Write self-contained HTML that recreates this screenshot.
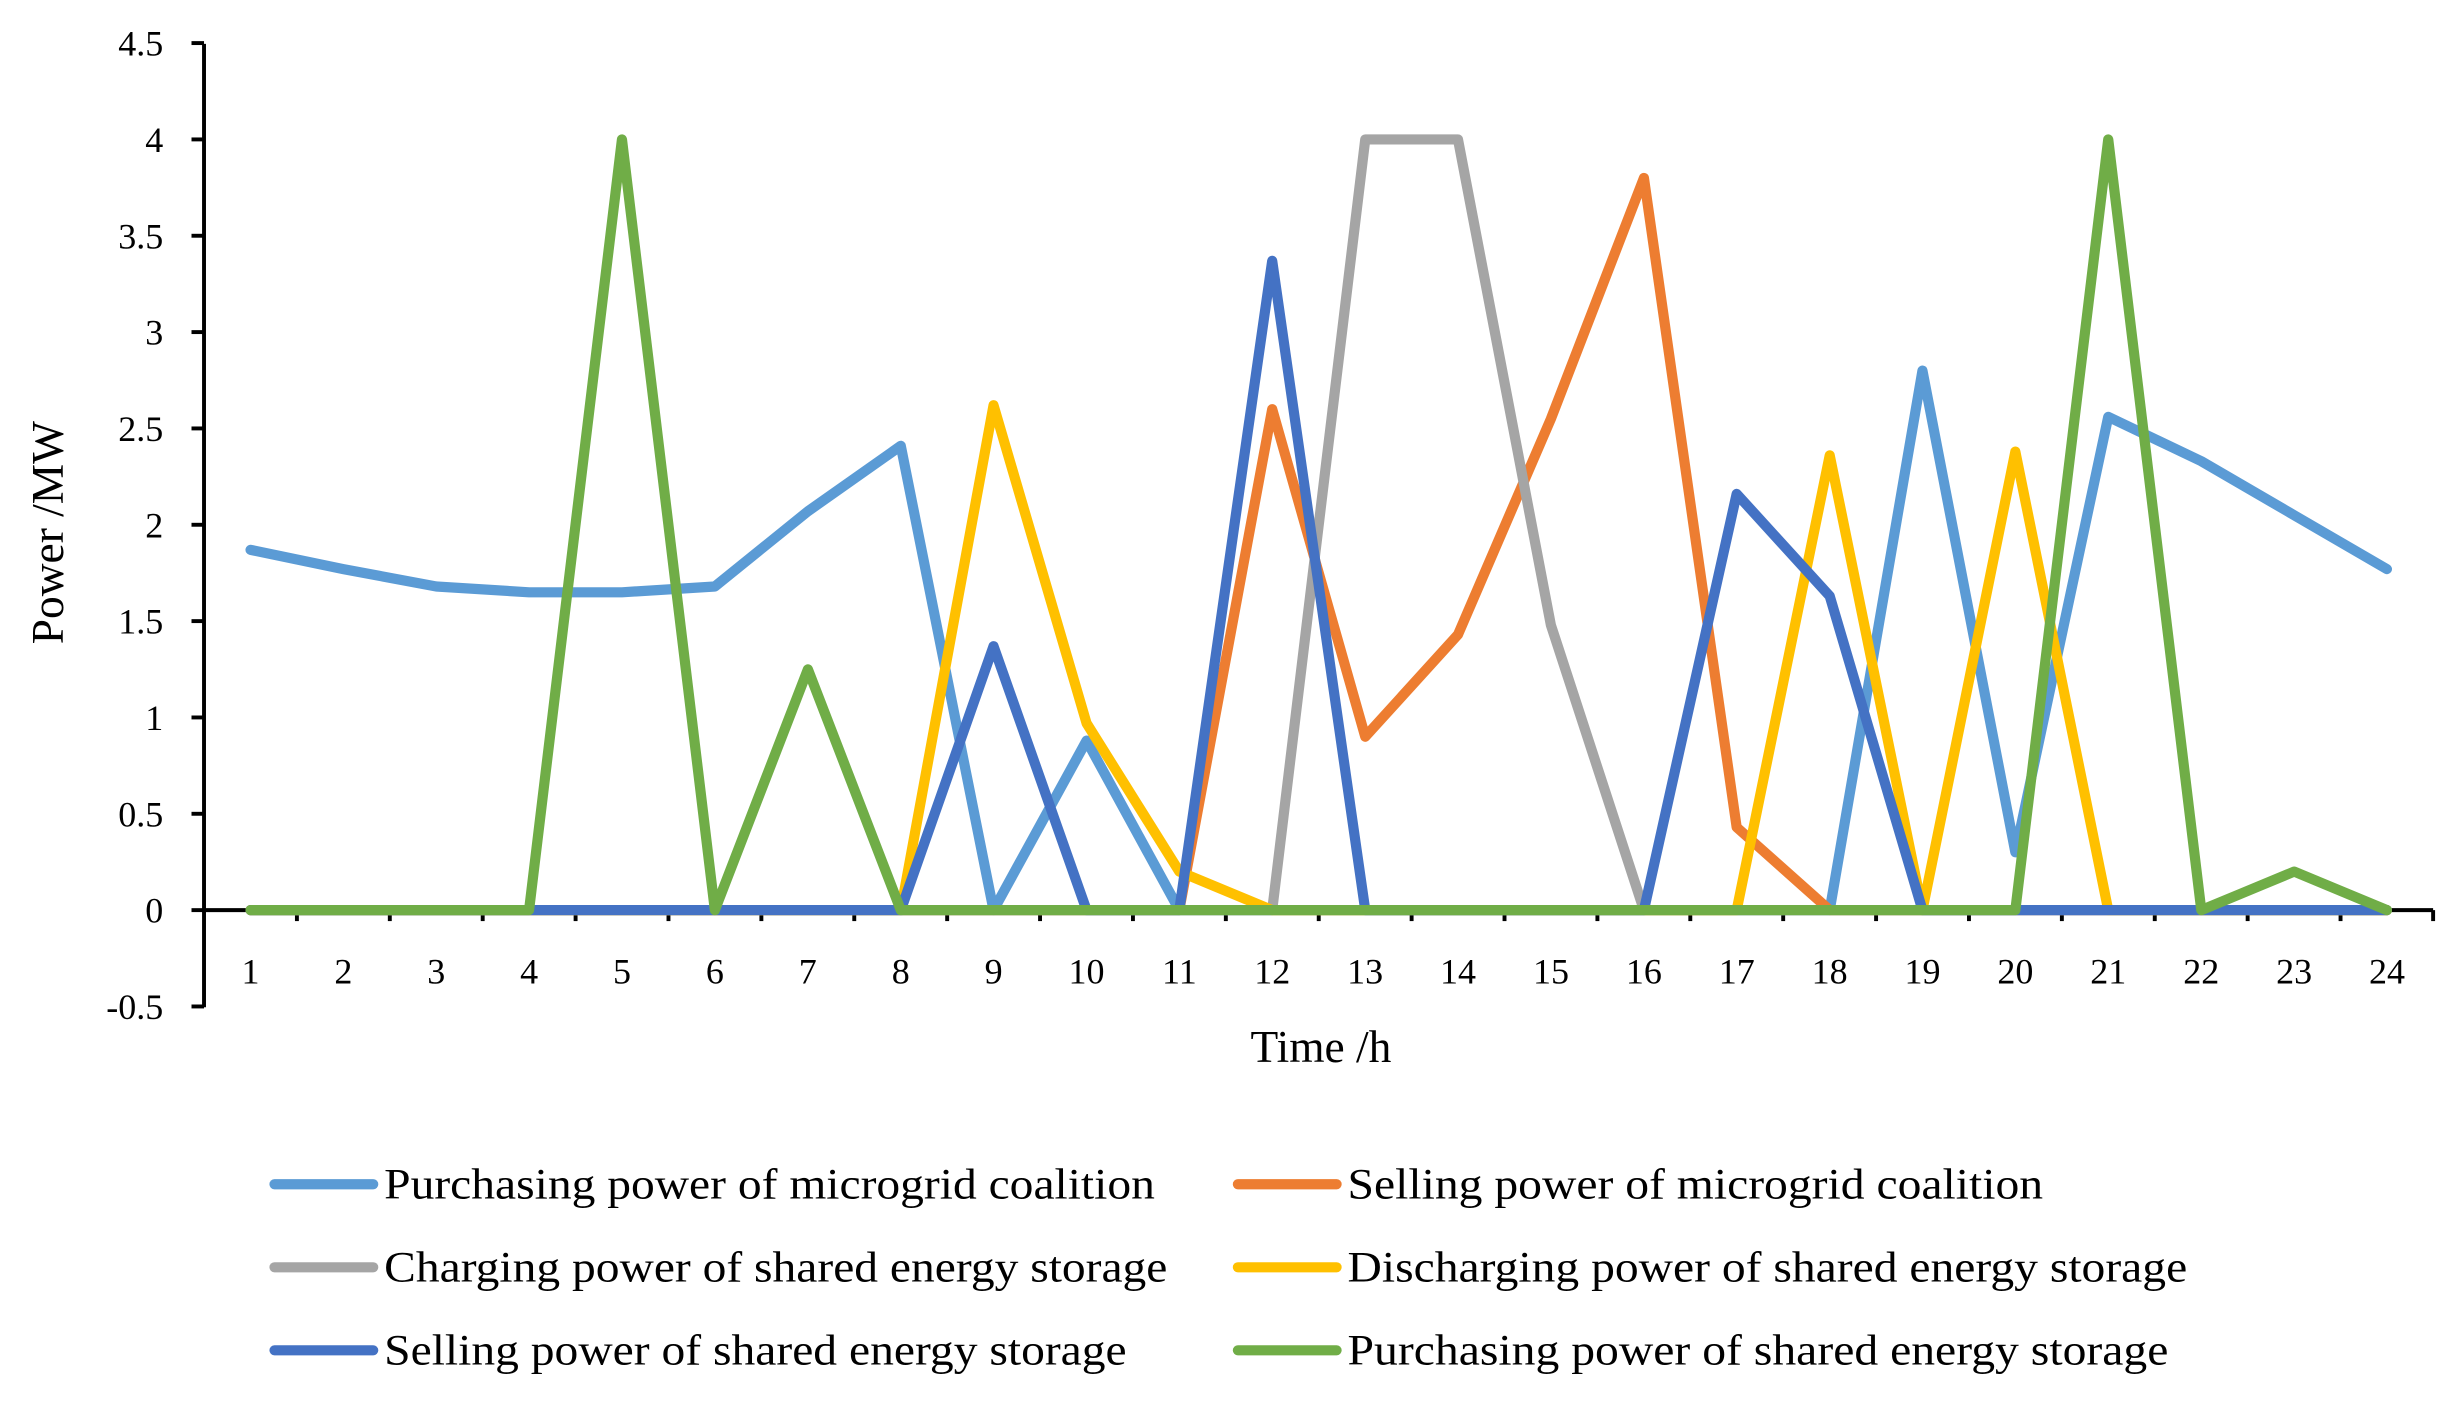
<!DOCTYPE html>
<html><head><meta charset="utf-8"><style>html,body{margin:0;padding:0;background:#fff}svg{display:block}</style></head>
<body>
<svg width="2457" height="1402" viewBox="0 0 1568 895" xmlns="http://www.w3.org/2000/svg" font-family="'Liberation Serif', serif">
<rect width="1568" height="895" fill="#fff"/>
<g stroke="#000" stroke-width="2.5" fill="none">
<line x1="130" y1="28" x2="130" y2="643"/>
<line x1="130" y1="581" x2="1553" y2="581"/>
<line x1="1553" y1="581" x2="1553" y2="588"/>
</g>
<g stroke="#000" stroke-width="2.5" id="yt"></g>
<g stroke="#000" stroke-width="2.5" id="xt"></g>
<g font-size="23" text-anchor="end" id="yl"></g>
<g font-size="23" text-anchor="middle" id="xl"></g>
<g fill="none" stroke-width="6.5" stroke-linejoin="round" stroke-linecap="round" id="series"></g>
<text x="843" y="678" font-size="29" text-anchor="middle">Time /h</text>
<text transform="translate(40,340) rotate(-90)" font-size="29" text-anchor="middle">Power /MW</text>
<g stroke-width="6.5" stroke-linecap="round">
<line x1="175" y1="756" x2="238" y2="756" stroke="#5B9BD5"/>
<line x1="175" y1="809" x2="238" y2="809" stroke="#A5A5A5"/>
<line x1="175" y1="862" x2="238" y2="862" stroke="#4472C4"/>
<line x1="790" y1="756" x2="853" y2="756" stroke="#ED7D31"/>
<line x1="790" y1="809" x2="853" y2="809" stroke="#FFC000"/>
<line x1="790" y1="862" x2="853" y2="862" stroke="#70AD47"/>
</g>
<g font-size="28">
<text x="245" y="765" textLength="492" lengthAdjust="spacingAndGlyphs">Purchasing power of microgrid coalition</text>
<text x="245" y="818" textLength="500" lengthAdjust="spacingAndGlyphs">Charging power of shared energy storage</text>
<text x="245" y="871" textLength="474" lengthAdjust="spacingAndGlyphs">Selling power of shared energy storage</text>
<text x="860" y="765" textLength="444" lengthAdjust="spacingAndGlyphs">Selling power of microgrid coalition</text>
<text x="860" y="818" textLength="536" lengthAdjust="spacingAndGlyphs">Discharging power of shared energy storage</text>
<text x="860" y="871" textLength="524" lengthAdjust="spacingAndGlyphs">Purchasing power of shared energy storage</text>
</g>
</svg>
<script>
var NS="http://www.w3.org/2000/svg";
function el(p,t,a,txt){var e=document.createElementNS(NS,t);for(var k in a)e.setAttribute(k,a[k]);if(txt!==undefined)e.textContent=txt;document.getElementById(p).appendChild(e);}
function Y(v){return 581-123*v;}
function X(i){return 130+59.3*(i-0.5);}
for(var k=0;k<=10;k++){var v=4.5-0.5*k;var y=Y(v);el("yt","line",{x1:122,y1:y,x2:130,y2:y});el("yl","text",{x:104,y:y+8},String(v));}
for(var k=1;k<24;k++){var x=130+59.3*k;el("xt","line",{x1:x,y1:581,x2:x,y2:588});}
for(var i=1;i<=24;i++){el("xl","text",{x:X(i),y:628},String(i));}
var z=function(){var a=[];for(var i=0;i<24;i++)a.push(0);return a;};
var lb=[1.87,1.77,1.68,1.65,1.65,1.68,2.07,2.41,0,0.88,0,0,0,0,0,0,0,0,2.8,0.3,2.56,2.33,2.05,1.77];
var or=z();or[11]=2.6;or[12]=0.9;or[13]=1.43;or[14]=2.55;or[15]=3.8;or[16]=0.43;
var gr=z();gr[12]=4;gr[13]=4;gr[14]=1.48;
var ye=z();ye[8]=2.62;ye[9]=0.97;ye[10]=0.2;ye[17]=2.36;ye[19]=2.38;
var db=z();db[8]=1.37;db[11]=3.37;db[16]=2.16;db[17]=1.63;
var gn=z();gn[4]=4;gn[6]=1.25;gn[20]=4;gn[22]=0.2;
var S=[[lb,"#5B9BD5"],[or,"#ED7D31"],[gr,"#A5A5A5"],[ye,"#FFC000"],[db,"#4472C4"],[gn,"#70AD47"]];
S.forEach(function(s){var p=s[0].map(function(v,i){return X(i+1).toFixed(1)+","+Y(v).toFixed(1);}).join(" ");el("series","polyline",{points:p,stroke:s[1]});});
</script>
</body></html>
